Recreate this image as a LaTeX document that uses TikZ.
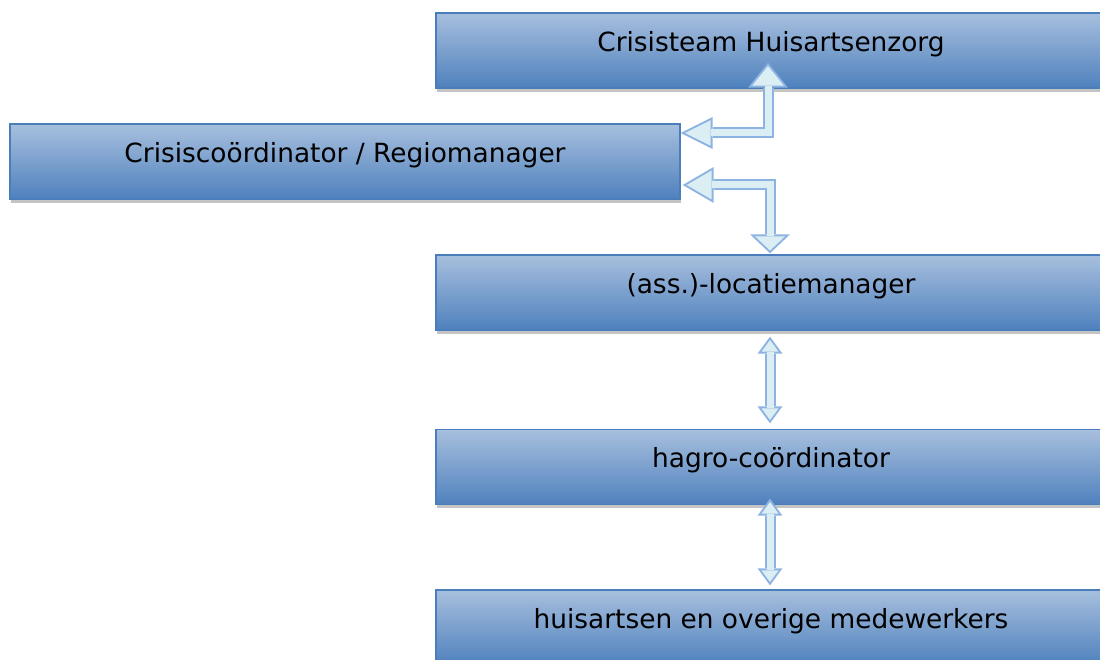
\documentclass[tikz,border=0pt]{standalone}
\usepackage{fontspec}
\setmainfont{DejaVu Sans}
\usetikzlibrary{arrows.meta,shadows}

\definecolor{boxtop}{RGB}{167,191,222}
\definecolor{boxbot}{RGB}{79,129,189}
\definecolor{boxline}{RGB}{74,126,187}
\definecolor{shadowgray}{RGB}{196,196,196}
\definecolor{arrfill}{RGB}{219,238,244}
\definecolor{arrline}{RGB}{141,179,226}

\begin{document}
\begin{tikzpicture}[x=1bp,y=1bp,
    box/.style={draw=boxline, line width=1.4bp, top color=boxtop, bottom color=boxbot,
        minimum width=670bp, minimum height=75bp, inner sep=0pt,
        text height=12bp, text depth=10bp, font=\fontsize{26.5}{30}\selectfont,
        drop shadow={shadow xshift=1bp, shadow yshift=-4bp, fill=shadowgray, opacity=1}},
    arrowrim/.style={draw=arrline, line width=11bp},
    arrowcore/.style={draw=arrfill, line width=7bp}]
    \useasboundingbox (0,0) rectangle (1100,660);
    \clip (0,0) rectangle (1100,660);

    %boxes
    \node[box] (team) at (771,609.5) {Crisisteam Huisartsenzorg};
    \node[box] (regio) at (345,498.5) {Crisiscoördinator / Regiomanager};
    \node[box] (loc) at (771,367.5) {(ass.)-locatiemanager};
    \node[box] (hagro) at (771,193) {hagro-coördinator};
    \node[box] (huis) at (771,32.5) {huisartsen en overige medewerkers};

    %arrow ends
    \coordinate (regio-a) at ([yshift=28.5bp]regio.east);
    \coordinate (team-a) at ([xshift=-3bp,yshift=26bp]team.south);
    \coordinate (regio-b) at ([xshift=2bp,yshift=-23.5bp]regio.east);
    \coordinate (loc-a) at ([xshift=-1bp,yshift=1bp]loc.north);
    \coordinate (loc-b) at ([xshift=-1bp,yshift=-6bp]loc.south);
    \coordinate (hagro-a) at ([xshift=-1bp,yshift=5.5bp]hagro.north);
    \coordinate (hagro-b) at ([xshift=-1bp,yshift=6.5bp]hagro.south);
    \coordinate (huis-a) at ([xshift=-1bp,yshift=4bp]huis.north);

    %regio <-> team
    \draw[arrowrim] [{Triangle[length=32bp,width=32bp,line width=0pt]}-{Triangle[length=25bp,width=40bp,line width=0pt]}] (regio-a) -| (team-a);
    \draw[arrowcore, shorten <=4.47bp, shorten >=3.2bp] [{Triangle[length=25.5bp,width=25.5bp,line width=0pt]}-{Triangle[length=19.8bp,width=31.7bp,line width=0pt]}] (regio-a) -| (team-a);

    %regio <-> loc
    \draw[arrowrim] [{Triangle[length=31bp,width=36bp,line width=0pt]}-{Triangle[length=19bp,width=40bp,line width=0pt]}] (regio-b) -| (loc-a);
    \draw[arrowcore, shorten <=3.98bp, shorten >=2.76bp] [{Triangle[length=25bp,width=29bp,line width=0pt]}-{Triangle[length=14.24bp,width=30bp,line width=0pt]}] (regio-b) -| (loc-a);

    %loc <-> hagro
    \draw[arrowrim] [{Triangle[length=17bp,width=25bp,line width=0pt]}-{Triangle[length=17bp,width=25bp,line width=0pt]}] (loc-b) -- (hagro-a);
    \draw[arrowcore, shorten <=3.38bp, shorten >=3.38bp] [{Triangle[length=11.62bp,width=17.1bp,line width=0pt]}-{Triangle[length=11.62bp,width=17.1bp,line width=0pt]}] (loc-b) -- (hagro-a);

    %hagro <-> huis
    \draw[arrowrim] [{Triangle[length=17bp,width=25bp,line width=0pt]}-{Triangle[length=17bp,width=25bp,line width=0pt]}] (hagro-b) -- (huis-a);
    \draw[arrowcore, shorten <=3.38bp, shorten >=3.38bp] [{Triangle[length=11.62bp,width=17.1bp,line width=0pt]}-{Triangle[length=11.62bp,width=17.1bp,line width=0pt]}] (hagro-b) -- (huis-a);
\end{tikzpicture}
\end{document}
